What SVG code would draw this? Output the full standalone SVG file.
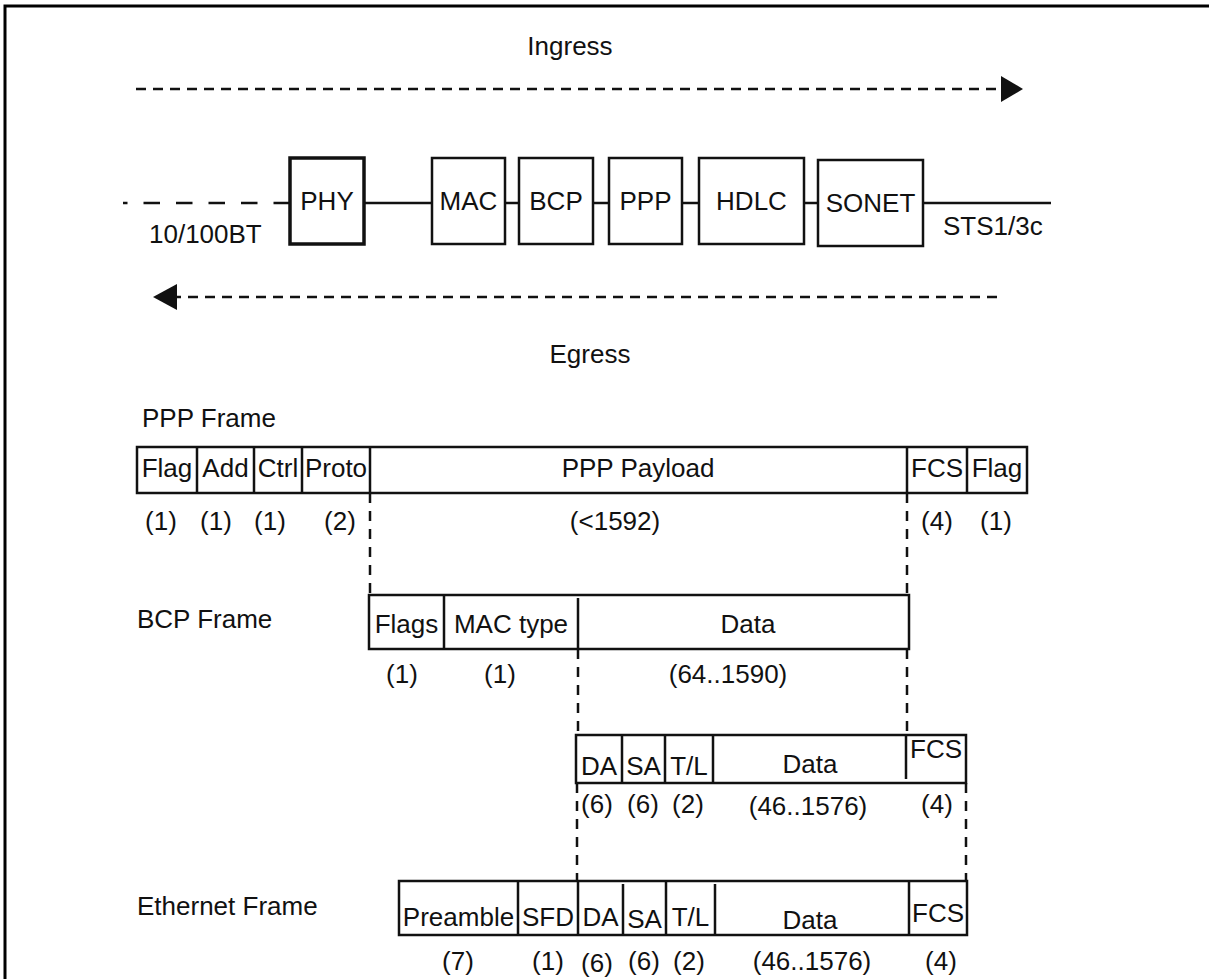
<svg xmlns="http://www.w3.org/2000/svg" width="1209" height="979" viewBox="0 0 1209 979">
<style>
  text { font-family: "Liberation Sans", Arial, sans-serif; font-size: 26px; fill: #111; }
  .c { text-anchor: middle; }
  .box { fill: #fff; stroke: #111; stroke-width: 2.5; }
  .thick { stroke-width: 3.5; }
  .ln { stroke: #111; stroke-width: 2.5; fill: none; }
  .dash { stroke: #111; stroke-width: 2.5; fill: none; stroke-dasharray: 10 7; }
  .vdash { stroke: #111; stroke-width: 2.5; fill: none; stroke-dasharray: 10 8; }
  .ldash { stroke: #111; stroke-width: 2.5; fill: none; stroke-dasharray: 16.5 16; }
</style>
<rect width="1209" height="979" fill="#fff"/>
<path d="M5,979 L5,6 L1209,6" fill="none" stroke="#000" stroke-width="3"/>

<g id="directions">
  <text class="c" x="570" y="55">Ingress</text>
  <text class="c" x="590" y="363">Egress</text>
</g>

<g id="connectors">
  <line class="dash" x1="136" y1="89" x2="1001" y2="89"/>
  <polygon points="1001,76 1023,89 1001,102" fill="#111"/>
  <line class="dash" x1="997" y1="297" x2="177" y2="297"/>
  <polygon points="177,284 153,297 177,310" fill="#111"/>
  <line class="ldash" x1="290" y1="203" x2="123" y2="203"/>
  <line class="ln" x1="364" y1="203" x2="432" y2="203"/>
  <line class="ln" x1="505" y1="203" x2="519" y2="203"/>
  <line class="ln" x1="593" y1="203" x2="609" y2="203"/>
  <line class="ln" x1="682" y1="203" x2="699" y2="203"/>
  <line class="ln" x1="804" y1="203" x2="818" y2="203"/>
  <line class="ln" x1="923" y1="203" x2="1051" y2="203"/>
  <line class="vdash" x1="370" y1="493" x2="370" y2="595"/>
  <line class="vdash" x1="907" y1="493" x2="907" y2="595"/>
  <line class="vdash" x1="578" y1="649" x2="578" y2="735"/>
  <line class="vdash" x1="907" y1="649" x2="907" y2="735"/>
  <line class="vdash" x1="577" y1="783" x2="577" y2="881"/>
  <line class="vdash" x1="966" y1="783" x2="966" y2="881"/>
</g>

<g id="link-labels">
  <text x="149" y="243">10/100BT</text>
  <text x="943" y="235">STS1/3c</text>
</g>

<g id="phy"><rect class="box thick" x="290" y="158" width="74" height="86"/><text class="c" x="327" y="210">PHY</text></g>
<g id="mac"><rect class="box" x="432" y="158" width="73" height="86"/><text class="c" x="468.5" y="210">MAC</text></g>
<g id="bcp"><rect class="box" x="519" y="158" width="74" height="86"/><text class="c" x="556" y="210">BCP</text></g>
<g id="ppp"><rect class="box" x="609" y="158" width="73" height="86"/><text class="c" x="645.5" y="210">PPP</text></g>
<g id="hdlc"><rect class="box" x="699" y="158" width="105" height="86"/><text class="c" x="751.5" y="210">HDLC</text></g>
<g id="sonet"><rect class="box" x="818" y="160" width="105" height="86"/><text class="c" x="870.5" y="212">SONET</text></g>

<g id="ppp-frame">
  <text x="142" y="427">PPP Frame</text>
  <rect class="box" x="137" y="447" width="890" height="46"/>
  <path class="ln" d="M197,447V493 M254,447V493 M302,447V493 M370,447V493 M907,447V493 M967,447V493"/>
  <text class="c" x="167" y="477">Flag</text>
  <text class="c" x="225.5" y="477">Add</text>
  <text class="c" x="278" y="477">Ctrl</text>
  <text class="c" x="336" y="477">Proto</text>
  <text class="c" x="638" y="477">PPP Payload</text>
  <text class="c" x="937" y="477">FCS</text>
  <text class="c" x="997" y="477">Flag</text>
  <text class="c" x="161" y="530">(1)</text>
  <text class="c" x="216" y="530">(1)</text>
  <text class="c" x="270" y="530">(1)</text>
  <text class="c" x="340" y="530">(2)</text>
  <text class="c" x="615" y="530">(&lt;1592)</text>
  <text class="c" x="937" y="530">(4)</text>
  <text class="c" x="996" y="530">(1)</text>
</g>

<g id="bcp-frame">
  <text x="137" y="628">BCP Frame</text>
  <rect class="box" x="369" y="595" width="540" height="54"/>
  <path class="ln" d="M444,595V649 M578,598V649"/>
  <text class="c" x="406.5" y="633">Flags</text>
  <text class="c" x="511" y="633">MAC type</text>
  <text class="c" x="748" y="633">Data</text>
  <text class="c" x="402" y="683">(1)</text>
  <text class="c" x="500" y="683">(1)</text>
  <text class="c" x="728" y="683">(64..1590)</text>
</g>

<g id="mac-frame">
  <rect class="box" x="576" y="735" width="390" height="48"/>
  <path class="ln" d="M622,735V783 M665,735V783 M713,735V783 M906,735V779"/>
  <text class="c" x="599" y="775">DA</text>
  <text class="c" x="643.5" y="775">SA</text>
  <text class="c" x="689" y="775">T/L</text>
  <text class="c" x="810" y="773">Data</text>
  <text class="c" x="936" y="758">FCS</text>
  <text class="c" x="597" y="813">(6)</text>
  <text class="c" x="643" y="813">(6)</text>
  <text class="c" x="688" y="813">(2)</text>
  <text class="c" x="808" y="815">(46..1576)</text>
  <text class="c" x="937" y="813">(4)</text>
</g>

<g id="ethernet-frame">
  <text x="137" y="915">Ethernet Frame</text>
  <rect class="box" x="399" y="881" width="568" height="54"/>
  <path class="ln" d="M518,881V935 M578,881V935 M623,884V935 M666,881V935 M715,884V935 M909,881V935"/>
  <text class="c" x="458.5" y="926">Preamble</text>
  <text class="c" x="548" y="926">SFD</text>
  <text class="c" x="600.5" y="926">DA</text>
  <text class="c" x="644.5" y="928">SA</text>
  <text class="c" x="690.5" y="926">T/L</text>
  <text class="c" x="810" y="929">Data</text>
  <text class="c" x="938" y="922">FCS</text>
  <text class="c" x="458" y="970">(7)</text>
  <text class="c" x="548" y="970">(1)</text>
  <text class="c" x="597" y="972">(6)</text>
  <text class="c" x="644" y="970">(6)</text>
  <text class="c" x="689" y="970">(2)</text>
  <text class="c" x="812" y="970">(46..1576)</text>
  <text class="c" x="941" y="970">(4)</text>
</g>
</svg>
